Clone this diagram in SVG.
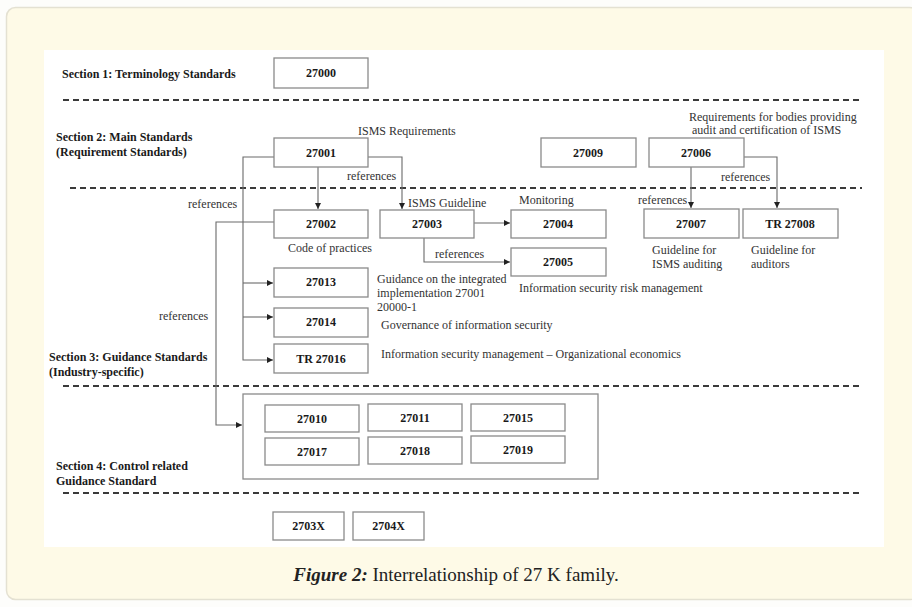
<svg xmlns="http://www.w3.org/2000/svg" width="912" height="607" viewBox="0 0 912 607">
<defs>
<style>
.box{fill:#fff;stroke:#8a8a8a;stroke-width:1.3}
.num{font-family:"Liberation Serif",serif;font-weight:bold;font-size:12px;fill:#1a1a1a;text-anchor:middle}
.lbl{font-family:"Liberation Serif",serif;font-size:12px;fill:#333}
.sec{font-family:"Liberation Serif",serif;font-weight:bold;font-size:12px;fill:#1a1a1a}
.dash{stroke:#3a3a3a;stroke-width:1.8;stroke-dasharray:6 4;fill:none}
.con{stroke:#6a6a6a;stroke-width:1.1;fill:none}
.arr{marker-end:url(#ah)}
</style>
<marker id="ah" viewBox="0 0 6 6" refX="6" refY="3" markerWidth="6" markerHeight="6" markerUnits="userSpaceOnUse" orient="auto">
<path d="M0,0 L6,3 L0,6 z" fill="#222"/>
</marker>
</defs>
<rect x="0" y="0" width="912" height="607" fill="#fdfdfb"/>
<rect x="6.5" y="7.5" width="912" height="592" rx="9" fill="#fefae7" stroke="#e4e1d2" stroke-width="1.5"/>
<rect x="44" y="50" width="840" height="497" fill="#ffffff"/>

<g id="dashes">
<line class="dash" x1="63" y1="100" x2="860" y2="100"/>
<line class="dash" x1="70" y1="188" x2="862" y2="188"/>
<line class="dash" x1="63" y1="386" x2="860" y2="386"/>
<line class="dash" x1="63" y1="493" x2="860" y2="493"/>
</g>

<g id="sections">
<text class="sec" x="62" y="78">Section 1: Terminology Standards</text>
<text class="sec" x="56" y="141">Section 2: Main Standards</text>
<text class="sec" x="56" y="156">(Requirement Standards)</text>
<text class="sec" x="49" y="361">Section 3: Guidance Standards</text>
<text class="sec" x="49" y="376">(Industry-specific)</text>
<text class="sec" x="56" y="470">Section 4: Control related</text>
<text class="sec" x="56" y="485">Guidance Standard</text>
</g>

<g id="connectors">
<path class="con arr" d="M274,157 H243 V360 H273"/>
<path class="con arr" d="M243,283 H273"/>
<path class="con arr" d="M243,317 H273"/>
<path class="con arr" d="M318,167 V209"/>
<path class="con arr" d="M368,157 H402 V209"/>
<path class="con arr" d="M274,222 H216 V425 H242"/>
<path class="con arr" d="M474,223 H510"/>
<path class="con arr" d="M424,238 V262 H510"/>
<path class="con arr" d="M691,167 V208"/>
<path class="con arr" d="M744,157 H777 V208"/>
</g>

<g id="n27000"><rect class="box" x="274" y="58" width="94" height="30"/><text class="num" x="321" y="77">27000</text></g>
<g id="n27001"><rect class="box" x="274" y="138" width="94" height="29"/><text class="num" x="321" y="157">27001</text></g>
<g id="n27009"><rect class="box" x="541" y="138" width="95" height="29"/><text class="num" x="588" y="157">27009</text></g>
<g id="n27006"><rect class="box" x="649" y="138" width="95" height="29"/><text class="num" x="696" y="157">27006</text></g>
<g id="n27002"><rect class="box" x="274" y="210" width="94" height="28"/><text class="num" x="321" y="228">27002</text></g>
<g id="n27003"><rect class="box" x="380" y="210" width="94" height="28"/><text class="num" x="427" y="228">27003</text></g>
<g id="n27004"><rect class="box" x="511" y="210" width="95" height="28"/><text class="num" x="558" y="228">27004</text></g>
<g id="n27005"><rect class="box" x="511" y="248" width="95" height="28"/><text class="num" x="558" y="266">27005</text></g>
<g id="n27007"><rect class="box" x="644" y="209" width="95" height="29"/><text class="num" x="691" y="228">27007</text></g>
<g id="n27008"><rect class="box" x="743" y="209" width="95" height="29"/><text class="num" x="790" y="228">TR 27008</text></g>
<g id="n27013"><rect class="box" x="274" y="268" width="94" height="29"/><text class="num" x="321" y="286">27013</text></g>
<g id="n27014"><rect class="box" x="274" y="308" width="94" height="29"/><text class="num" x="321" y="326">27014</text></g>
<g id="n27016"><rect class="box" x="274" y="344" width="94" height="29"/><text class="num" x="321" y="363">TR 27016</text></g>

<g id="group">
<rect class="box" x="243" y="394" width="355" height="85"/>
<g id="n27010"><rect class="box" x="265" y="405" width="94" height="27"/><text class="num" x="312" y="423">27010</text></g>
<g id="n27011"><rect class="box" x="368" y="404" width="94" height="27"/><text class="num" x="415" y="422">27011</text></g>
<g id="n27015"><rect class="box" x="471" y="404" width="94" height="27"/><text class="num" x="518" y="422">27015</text></g>
<g id="n27017"><rect class="box" x="265" y="438" width="94" height="27"/><text class="num" x="312" y="456">27017</text></g>
<g id="n27018"><rect class="box" x="368" y="437" width="94" height="27"/><text class="num" x="415" y="455">27018</text></g>
<g id="n27019"><rect class="box" x="471" y="436" width="94" height="27"/><text class="num" x="518" y="454">27019</text></g>
</g>

<g id="n2703X"><rect class="box" x="273" y="512" width="71" height="28"/><text class="num" x="308.5" y="530">2703X</text></g>
<g id="n2704X"><rect class="box" x="353" y="512" width="71" height="28"/><text class="num" x="388.5" y="530">2704X</text></g>

<g id="labels">
<text class="lbl" x="358" y="135">ISMS Requirements</text>
<text class="lbl" x="689" y="121">Requirements for bodies providing</text>
<text class="lbl" x="692" y="134">audit and certification of ISMS</text>
<text class="lbl" x="347" y="180">references</text>
<text class="lbl" x="721" y="181">references</text>
<text class="lbl" x="188" y="208">references</text>
<text class="lbl" x="408" y="207">ISMS Guideline</text>
<text class="lbl" x="519" y="204">Monitoring</text>
<text class="lbl" x="638" y="204">references</text>
<text class="lbl" x="288" y="252">Code of practices</text>
<text class="lbl" x="435" y="258">references</text>
<text class="lbl" x="652" y="254">Guideline for</text>
<text class="lbl" x="652" y="268">ISMS auditing</text>
<text class="lbl" x="751" y="254">Guideline for</text>
<text class="lbl" x="751" y="268">auditors</text>
<text class="lbl" x="377" y="283">Guidance on the integrated</text>
<text class="lbl" x="377" y="297">implementation 27001</text>
<text class="lbl" x="377" y="311">20000-1</text>
<text class="lbl" x="519" y="292">Information security risk management</text>
<text class="lbl" x="159" y="320">references</text>
<text class="lbl" x="381" y="329">Governance of information security</text>
<text class="lbl" x="381" y="358">Information security management – Organizational economics</text>
</g>

<text x="456" y="581" text-anchor="middle" font-family="'Liberation Serif',serif" font-size="19" fill="#222"><tspan font-weight="bold" font-style="italic">Figure 2:</tspan> Interrelationship of 27 K family.</text>
</svg>
